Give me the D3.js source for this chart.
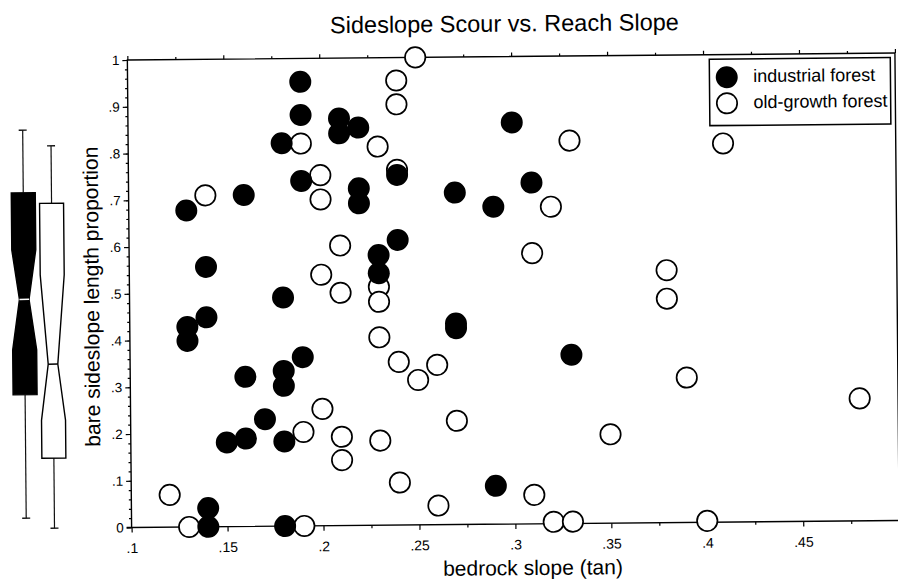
<!DOCTYPE html>
<html>
<head>
<meta charset="utf-8">
<script src="https://cdn.jsdelivr.net/npm/d3@7"></script>
<style>
  html, body { margin: 0; padding: 0; background: #fff; }
  svg { display: block; font-family: "Liberation Sans", Arial, Helvetica, sans-serif; }
</style>
</head>
<body>
<svg id="chart" width="898" height="579"></svg>
<script>
// Bare sideslope length proportion against bedrock reach slope, by forest type.
const industrialSlope = [0.19, 0.19, 0.21, 0.21, 0.22, 0.18, 0.19, 0.22, 0.22, 0.16,
                         0.13, 0.14, 0.23, 0.23, 0.24, 0.30, 0.31, 0.27, 0.29, 0.24,
                         0.18, 0.14, 0.13, 0.13, 0.19, 0.16, 0.18, 0.18, 0.17, 0.15,
                         0.16, 0.18, 0.14, 0.14, 0.18, 0.27, 0.27, 0.33, 0.29];
const industrialBare  = [0.950, 0.879, 0.871, 0.839, 0.851, 0.819, 0.738, 0.721, 0.689, 0.709,
                         0.677, 0.556, 0.578, 0.539, 0.749, 0.859, 0.730, 0.710, 0.679, 0.610,
                         0.489, 0.448, 0.428, 0.398, 0.361, 0.320, 0.332, 0.300, 0.229, 0.180,
                         0.188, 0.181, 0.040, 0.000, 0.000, 0.430, 0.420, 0.361, 0.082];

const oldGrowthSlope = [0.19, 0.23, 0.20, 0.20, 0.14, 0.21, 0.20, 0.21, 0.23, 0.23,
                        0.23, 0.24, 0.26, 0.25, 0.27, 0.23, 0.24, 0.26, 0.31, 0.32,
                        0.33, 0.35, 0.33, 0.32, 0.31, 0.25, 0.24, 0.24, 0.24, 0.20,
                        0.19, 0.21, 0.21, 0.12, 0.13, 0.19, 0.41, 0.38, 0.38, 0.39,
                        0.48, 0.40];
const oldGrowthBare  = [0.818, 0.810, 0.750, 0.698, 0.709, 0.599, 0.537, 0.498, 0.510, 0.478,
                        0.402, 0.349, 0.342, 0.310, 0.222, 0.181, 0.091, 0.041, 0.062, 0.004,
                        0.004, 0.190, 0.819, 0.678, 0.579, 1.000, 0.951, 0.900, 0.760, 0.250,
                        0.201, 0.190, 0.140, 0.069, 0.000, 0.000, 0.810, 0.540, 0.479, 0.310,
                        0.262, 0.003];

// Marginal notched box summaries of the bare proportion (10th/25th/50th/75th/90th percentiles).
const groups    = ["industrial forest", "old-growth forest"];
const p10       = [0.022, 0.000];
const q1        = [0.286, 0.150];
const notchLow  = [0.382, 0.231];
const median    = [0.490, 0.351];
const notchHigh = [0.596, 0.542];
const q3        = [0.718, 0.695];
const p90       = [0.852, 0.818];

const xTickValues = [0.1, 0.15, 0.2, 0.25, 0.3, 0.35, 0.4, 0.45];
const yTickValues = [0, 0.1, 0.2, 0.3, 0.4, 0.5, 0.6, 0.7, 0.8, 0.9, 1];

const title  = "Sideslope Scour vs. Reach Slope";
const xTitle = "bedrock slope (tan)";
const yTitle = "bare sideslope length proportion";

// ---------------------------------------------------------------------------
const svg = d3.select("#chart");
const plot = svg.append("g").attr("transform", "rotate(-0.52 131 527.5)");

const x = d3.scaleLinear().domain([0.1, 0.5]).range([131.6, 899.2]);
const y = d3.scaleLinear().domain([0, 1]).range([527.5, 60]);

const fmt = d => (d === 0 ? "0" : d === 1 ? "1" : String(d).replace(/^0/, ""));

function styleAxis(sel, fontSize) {
  sel.attr("font-family", null).attr("font-size", fontSize);
  sel.select(".domain").remove();
  sel.selectAll(".tick line").attr("stroke", "#000").attr("stroke-width", 1.2);
  sel.selectAll(".tick text").attr("fill", "#000");
}

// plot frame
plot.append("rect")
  .attr("x", x(0.1)).attr("y", y(1))
  .attr("width", x(0.5) - x(0.1)).attr("height", y(0) - y(1))
  .attr("fill", "none").attr("stroke", "#000").attr("stroke-width", 1.4);
plot.append("line")
  .attr("x1", x(0.1) - 5).attr("x2", x(0.1))
  .attr("y1", y(0)).attr("y2", y(0))
  .attr("stroke", "#000").attr("stroke-width", 1.4);

// bottom axis
plot.append("g").attr("transform", `translate(0,${y(0)})`)
  .call(d3.axisBottom(x).tickValues(xTickValues).tickSize(5).tickPadding(10.5).tickFormat(fmt))
  .call(styleAxis, 14);
plot.append("g").attr("transform", `translate(0,${y(0)})`)
  .call(d3.axisBottom(x).tickValues(d3.range(0.125, 0.5, 0.05)).tickSize(3).tickFormat(""))
  .call(styleAxis, 14);

// top axis
plot.append("g").attr("transform", `translate(0,${y(1)})`)
  .call(d3.axisTop(x).tickValues(xTickValues.concat([0.5])).tickSize(4).tickFormat(""))
  .call(styleAxis, 14);
plot.append("g").attr("transform", `translate(0,${y(1)})`)
  .call(d3.axisTop(x).tickValues(d3.range(0.125, 0.5, 0.05)).tickSize(2.5).tickFormat(""))
  .call(styleAxis, 14);

// left axis
plot.append("g").attr("transform", `translate(${x(0.1)},0)`)
  .call(d3.axisLeft(y).tickValues(yTickValues).tickSize(5).tickPadding(3).tickFormat(fmt))
  .call(styleAxis, 13.5);
plot.append("g").attr("transform", `translate(${x(0.1)},0)`)
  .call(d3.axisLeft(y).tickValues(d3.range(0.02, 1, 0.02)).tickSize(2.5).tickFormat(""))
  .call(styleAxis, 13.5);

// titles
plot.append("text")
  .attr("x", 509).attr("y", 35)
  .attr("text-anchor", "middle").attr("font-size", 23.5)
  .text(title);
plot.append("text")
  .attr("x", 532.6).attr("y", 578.6)
  .attr("text-anchor", "middle").attr("font-size", 21)
  .text(xTitle);
plot.append("text")
  .attr("transform", "translate(101,296.4) rotate(-90)")
  .attr("text-anchor", "middle").attr("font-size", 21)
  .text(yTitle);

// marginal notched box plots
const band = d3.scaleBand().domain(groups).range([14.3, 66.5]).paddingInner(0.149);
const boxes = groups.map((g, i) => ({
  g, i, p10: p10[i], q1: q1[i], nl: notchLow[i], med: median[i],
  nh: notchHigh[i], q3: q3[i], p90: p90[i]
}));
const boxG = plot.append("g");
boxes.forEach(b => {
  const x0 = band(b.g), x1 = x0 + band.bandwidth(), cx = x0 + band.bandwidth() / 2;
  const inset = band.bandwidth() * 0.3;
  const solid = b.i === 0;
  // whiskers and caps
  [[b.q3, b.p90], [b.q1, b.p10]].forEach(([a, e]) => {
    boxG.append("line").attr("x1", cx).attr("x2", cx).attr("y1", y(a)).attr("y2", y(e))
      .attr("stroke", "#111").attr("stroke-width", 1.2);
    boxG.append("line").attr("x1", cx - 4).attr("x2", cx + 4).attr("y1", y(e)).attr("y2", y(e))
      .attr("stroke", "#111").attr("stroke-width", 1.4);
  });
  const pts = [
    [x0, y(b.q3)], [x1, y(b.q3)], [x1, y(b.nh)], [x1 - inset, y(b.med)], [x1, y(b.nl)],
    [x1, y(b.q1)], [x0, y(b.q1)], [x0, y(b.nl)], [x0 + inset, y(b.med)], [x0, y(b.nh)]
  ];
  boxG.append("path")
    .attr("d", d3.line()(pts) + "Z")
    .attr("fill", solid ? "#000" : "#fff")
    .attr("stroke", "#000").attr("stroke-width", 1.4).attr("stroke-linejoin", "miter");
  boxG.append("line")
    .attr("x1", x0 + inset).attr("x2", x1 - inset)
    .attr("y1", y(b.med)).attr("y2", y(b.med))
    .attr("stroke", solid ? "#fff" : "#000").attr("stroke-width", 1.5);
});

// scatter points
plot.append("g")
  .selectAll("circle")
  .data(d3.zip(oldGrowthSlope, oldGrowthBare))
  .join("circle")
  .attr("cx", d => x(d[0])).attr("cy", d => y(d[1]))
  .attr("r", 10.2)
  .attr("fill", "#fff").attr("stroke", "#000").attr("stroke-width", 1.7);
plot.append("g")
  .selectAll("circle")
  .data(d3.zip(industrialSlope, industrialBare))
  .join("circle")
  .attr("cx", d => x(d[0])).attr("cy", d => y(d[1]))
  .attr("r", 11)
  .attr("fill", "#000");

// legend
const legend = plot.append("g");
legend.append("rect")
  .attr("x", 713.5).attr("y", 64.5).attr("width", 181).attr("height", 66.4)
  .attr("fill", "#fff").attr("stroke", "#000").attr("stroke-width", 1.5);
const legendRows = legend.selectAll("g.row")
  .data(groups)
  .join("g").attr("class", "row")
  .attr("transform", (d, i) => `translate(730.8,${82.7 + i * 26})`);
legendRows.append("circle")
  .attr("r", (d, i) => (i === 0 ? 11 : 10.2))
  .attr("fill", (d, i) => (i === 0 ? "#000" : "#fff"))
  .attr("stroke", "#000")
  .attr("stroke-width", (d, i) => (i === 0 ? 0 : 1.7));
legendRows.append("text")
  .attr("x", 26.5).attr("y", 5)
  .attr("font-size", 18)
  .text(d => d);
</script>
</body>
</html>
